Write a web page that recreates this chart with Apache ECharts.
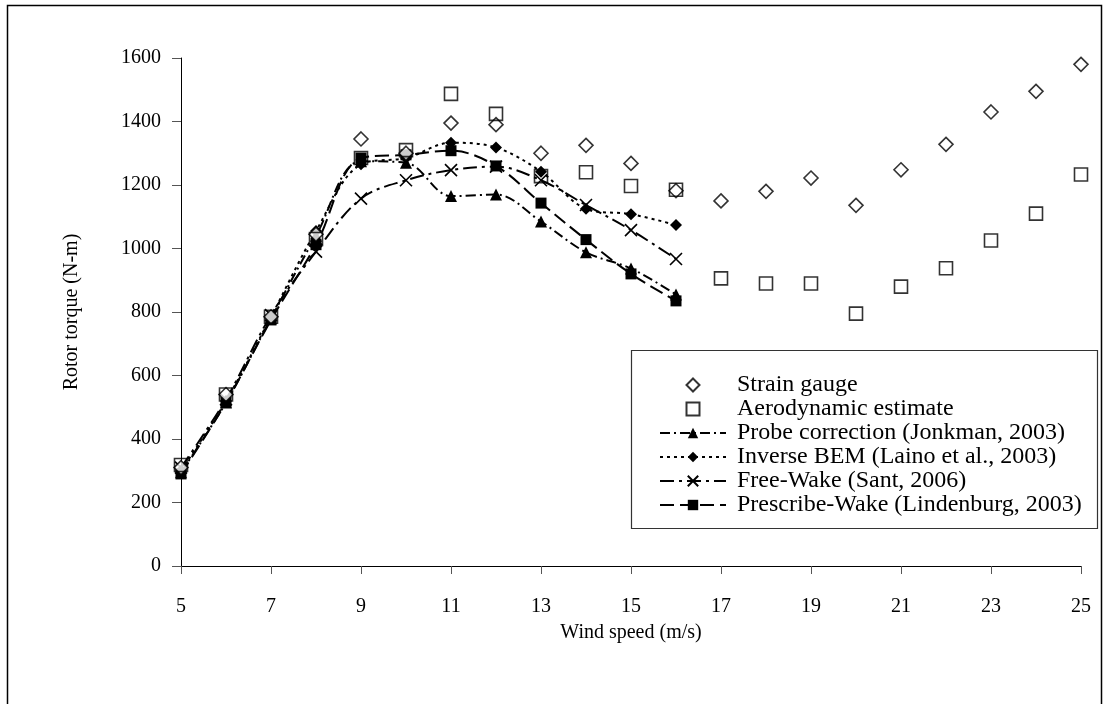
<!DOCTYPE html>
<html>
<head>
<meta charset="utf-8">
<script src="https://cdn.jsdelivr.net/npm/echarts@6/dist/echarts.min.js"></script>
<style>
  html, body { margin: 0; padding: 0; background: #fff; }
  #chart { width: 1109px; height: 704px; }
</style>
</head>
<body>
<div id="chart"></div>
<script>
// Wind speed bins (m/s)
const windSpeed = [5, 6, 7, 8, 9, 10, 11, 12, 13, 14, 15, 16, 17, 18, 19, 20, 21, 22, 23, 24, 25];
const modelWind = [5, 6, 7, 8, 9, 10, 11, 12, 13, 14, 15, 16];
const xTicks = [5, 7, 9, 11, 13, 15, 17, 19, 21, 23, 25];

// Measured rotor torque (N-m)
const strainGauge = [310, 540, 785, 1045, 1345, 1300, 1395, 1390, 1300, 1325, 1268, 1182, 1150, 1180, 1222, 1136, 1248, 1328, 1430, 1495, 1580];
const aeroEstimate = [318, 540, 785, 1030, 1285, 1310, 1487, 1424, 1228, 1240, 1197, 1185, 906, 890, 890, 795, 880, 938, 1025, 1110, 1233];

// Model predictions (N-m)
const probeCorrection = [295, 515, 780, 1040, 1275, 1270, 1165, 1170, 1085, 988, 937, 855];
const inverseBEM = [300, 520, 785, 1055, 1265, 1285, 1333, 1318, 1242, 1125, 1108, 1074];
const freeWake = [310, 525, 790, 990, 1157, 1215, 1247, 1258, 1215, 1137, 1058, 967];
const prescribeWake = [290, 515, 775, 1012, 1285, 1295, 1308, 1260, 1143, 1028, 920, 835];

const seriesNames = [
  'Strain gauge',
  'Aerodynamic estimate',
  'Probe correction (Jonkman, 2003)',
  'Inverse BEM (Laino et al., 2003)',
  'Free-Wake (Sant, 2006)',
  'Prescribe-Wake (Lindenburg, 2003)'
];

const pairs = (xs, ys) => xs.map((x, i) => [x, ys[i]]);
const FONT = 'Liberation Serif';
const crossPath = 'path://M0,0L10,10M10,0L0,10';
// open marker outlines used in the legend, kept square so they are not stretched
const diamondIcon = 'path://M5,0L10,5L5,10L0,5Z';
const squareIcon = 'path://M0,0L10,0L10,10L0,10Z';

function modelLine(name, values, dash, symbol, size, isCross) {
  return {
    name: name,
    type: 'line',
    data: pairs(modelWind, values),
    smooth: 0.35,
    symbol: symbol,
    symbolSize: size,
    showAllSymbol: true,
    lineStyle: { color: '#000', width: 2, type: dash },
    itemStyle: isCross
      ? { color: 'none', borderColor: '#000', borderWidth: 1.6 }
      : { color: '#000', borderColor: '#000', borderWidth: 0 },
    emphasis: { disabled: true },
    z: 3
  };
}

const chart = echarts.init(document.getElementById('chart'), null, { renderer: 'canvas' });

chart.setOption({
  animation: false,
  backgroundColor: '#fff',
  textStyle: { fontFamily: FONT, color: '#000' },
  grid: { left: 181, top: 58, right: 28, bottom: 138, containLabel: false },
  xAxis: {
    type: 'value',
    min: 5,
    max: 25,
    interval: 1,
    name: 'Wind speed (m/s)',
    nameLocation: 'middle',
    nameGap: 57,
    nameTextStyle: { fontFamily: FONT, fontSize: 20, color: '#000' },
    axisLine: { show: true, onZero: false, lineStyle: { color: '#000', width: 1 } },
    axisTick: { show: true, inside: false, length: 8, customValues: xTicks, lineStyle: { color: '#555' } },
    axisLabel: { customValues: xTicks, margin: 31, fontFamily: FONT, fontSize: 20, color: '#000' },
    splitLine: { show: false }
  },
  yAxis: {
    type: 'value',
    min: 0,
    max: 1600,
    interval: 200,
    name: 'Rotor torque (N-m)',
    nameLocation: 'middle',
    nameGap: 99,
    nameRotate: 90,
    nameTextStyle: { fontFamily: FONT, fontSize: 20, color: '#000' },
    axisLine: { show: true, lineStyle: { color: '#000', width: 1 } },
    axisTick: { show: true, inside: false, length: 9, lineStyle: { color: '#555' } },
    axisLabel: { margin: 20, fontFamily: FONT, fontSize: 20, color: '#000', formatter: (v) => String(v) },
    splitLine: { show: false }
  },
  legend: {
    orient: 'vertical',
    left: 659,
    top: 373,
    itemWidth: 66,
    itemHeight: 13,
    itemGap: 0,
    padding: 0,
    symbolKeepAspect: true,
    textStyle: { fontFamily: FONT, fontSize: 24, lineHeight: 23, color: '#000', padding: [0, 0, 0, 6] },
    data: [
      { name: seriesNames[0], icon: diamondIcon },
      { name: seriesNames[1], icon: squareIcon },
      seriesNames[2],
      seriesNames[3],
      seriesNames[4],
      seriesNames[5]
    ]
  },
  graphic: [
    {
      type: 'rect',
      shape: { x: 7.5, y: 5.5, width: 1094, height: 720 },
      style: { fill: 'none', stroke: '#000', lineWidth: 1.5 },
      silent: true,
      z: 0
    },
    {
      type: 'rect',
      shape: { x: 631.5, y: 350.5, width: 466, height: 178 },
      style: { fill: '#fff', stroke: '#333', lineWidth: 1.2 },
      silent: true,
      z: 1
    }
  ],
  series: [
    {
      name: seriesNames[0],
      type: 'scatter',
      data: pairs(windSpeed, strainGauge),
      symbol: 'diamond',
      symbolSize: [14, 14],
      itemStyle: { color: '#fff', borderColor: '#000', borderWidth: 1.6 },
      emphasis: { disabled: true },
      z: 4
    },
    {
      name: seriesNames[1],
      type: 'scatter',
      data: pairs(windSpeed, aeroEstimate),
      symbol: 'rect',
      symbolSize: [13, 13],
      itemStyle: { color: 'rgba(255,255,255,0)', borderColor: '#000', borderWidth: 1.6 },
      emphasis: { disabled: true },
      z: 4
    },
    modelLine(seriesNames[2], probeCorrection, [10, 4, 2, 4], 'triangle', 12, false),
    modelLine(seriesNames[3], inverseBEM, [3, 4], 'diamond', 12, false),
    modelLine(seriesNames[4], freeWake, [14, 5, 3, 5], crossPath, 12, true),
    modelLine(seriesNames[5], prescribeWake, [14, 6], 'rect', 11, false)
  ]
});
</script>
</body>
</html>
